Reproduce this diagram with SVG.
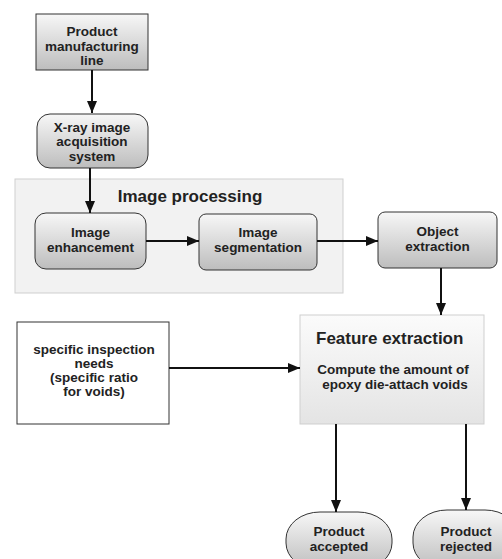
<svg xmlns="http://www.w3.org/2000/svg" width="502" height="559" viewBox="0 0 502 559">
<defs>
<linearGradient id="g" x1="0" y1="0" x2="0" y2="1">
<stop offset="0" stop-color="#f7f7f7"/>
<stop offset="1" stop-color="#bdbdbd"/>
</linearGradient>
<linearGradient id="gl" x1="0" y1="0" x2="0" y2="1">
<stop offset="0" stop-color="#fbfbfb"/>
<stop offset="1" stop-color="#e4e4e4"/>
</linearGradient>
<marker id="ah" viewBox="0 0 12 10" refX="12" refY="5" markerWidth="12" markerHeight="10" markerUnits="userSpaceOnUse" orient="auto">
<path d="M0,0 L12,5 L0,10 z" fill="#111"/>
</marker>
<style>
.n{fill:url(#g);stroke:#333;stroke-width:1}
.t{font-family:"Liberation Sans",Arial,sans-serif;font-weight:bold;font-size:13.5px;fill:#222;text-anchor:middle}
.h{font-family:"Liberation Sans",Arial,sans-serif;font-weight:bold;font-size:17px;fill:#222}
.c{stroke:#111;stroke-width:2;fill:none;marker-end:url(#ah)}
</style>
</defs>
<rect width="502" height="559" fill="#fff"/>
<g id="image-processing">
<rect x="15" y="179" width="328" height="114" fill="#f2f2f2" stroke="#cfcfcf"/>
<text class="h" x="190" y="202" text-anchor="middle">Image processing</text>
</g>
<g id="product-line">
<rect class="n" x="36" y="14" width="112" height="56"/>
<text class="t" x="92" y="36">Product</text>
<text class="t" x="92" y="50.5">manufacturing</text>
<text class="t" x="92" y="65">line</text>
</g>
<g id="xray">
<rect class="n" x="37" y="114" width="111" height="54" rx="13"/>
<text class="t" x="92" y="131.5">X-ray image</text>
<text class="t" x="92" y="146">acquisition</text>
<text class="t" x="92" y="160.5">system</text>
</g>
<g id="enhancement">
<rect class="n" x="35" y="213" width="111" height="56" rx="11"/>
<text class="t" x="90.5" y="237">Image</text>
<text class="t" x="90.5" y="252">enhancement</text>
</g>
<g id="segmentation">
<rect class="n" x="199" y="214" width="118" height="56" rx="7"/>
<text class="t" x="258" y="237">Image</text>
<text class="t" x="258" y="252">segmentation</text>
</g>
<g id="object-extraction">
<rect class="n" x="378" y="212" width="119" height="56" rx="7"/>
<text class="t" x="437.5" y="236">Object</text>
<text class="t" x="437.5" y="250.5">extraction</text>
</g>
<g id="inspection-needs">
<rect x="17" y="322" width="152" height="102" fill="#fff" stroke="#333"/>
<text class="t" x="94" y="353.5">specific inspection</text>
<text class="t" x="94" y="367.5">needs</text>
<text class="t" x="94" y="381.5">(specific ratio</text>
<text class="t" x="94" y="395.5">for voids)</text>
</g>
<g id="feature-extraction">
<rect x="300" y="315" width="184" height="109" fill="url(#gl)" stroke="#cfcfcf"/>
<text class="h" x="316" y="344">Feature extraction</text>
<text class="t" x="393" y="374">Compute the amount of</text>
<text class="t" x="395" y="388.5">epoxy die-attach voids</text>
</g>
<g id="accepted">
<rect class="n" x="286" y="512" width="106" height="58" rx="34" ry="27"/>
<text class="t" x="339" y="536">Product</text>
<text class="t" x="339" y="551">accepted</text>
</g>
<g id="rejected">
<rect class="n" x="413" y="510" width="106" height="60" rx="34" ry="27"/>
<text class="t" x="466" y="536">Product</text>
<text class="t" x="466" y="550.5">rejected</text>
</g>
<g id="connectors">
<path class="c" d="M92,70 V113"/>
<path class="c" d="M90,168 V213"/>
<path class="c" d="M146,241 H199"/>
<path class="c" d="M317,241 H378"/>
<path class="c" d="M441,268 V315"/>
<path class="c" d="M169,368 H300"/>
<path class="c" d="M336,424 V512"/>
<path class="c" d="M466,424 V510"/>
</g>
</svg>
